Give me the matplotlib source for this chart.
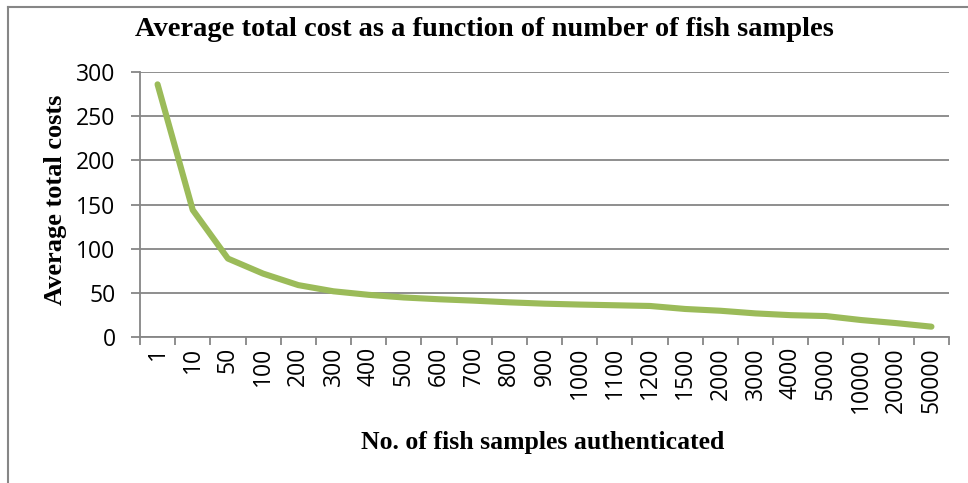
import matplotlib
matplotlib.use("Agg")
import matplotlib.pyplot as plt
from matplotlib.lines import Line2D
import numpy as np

# average total cost per number of authenticated fish samples
samples = ["1", "10", "50", "100", "200", "300", "400", "500", "600", "700",
           "800", "900", "1000", "1100", "1200", "1500", "2000", "3000",
           "4000", "5000", "10000", "20000", "50000"]
avg_cost = [286, 144, 89, 72, 59, 52, 48, 45, 43, 41.4, 39.5, 38, 37, 36.2,
            35.4, 32, 30, 27, 25, 24, 19.5, 16, 12]

grey = "#868686"
green = "#9BBB59"

fig = plt.figure(figsize=(9.68, 4.83), dpi=100)
ax = fig.add_axes([0.1446, 0.3017, 0.9804 - 0.1446, 0.851 - 0.3017])

x = np.arange(len(samples))
ax.plot(x, avg_cost, color=green, linewidth=4.4, solid_capstyle="round",
        solid_joinstyle="round", zorder=3)

ax.set_xlim(-0.5, len(samples) - 0.5)
ax.set_ylim(0, 300)
ax.set_yticks(np.arange(0, 301, 50))
ax.yaxis.grid(True, color=grey, linewidth=1.3)
ax.set_axisbelow(True)

# category labels centred, tick marks on the boundaries
ax.set_xticks(x)
ax.set_xticklabels(samples, rotation=90, fontfamily="Open Sans", fontsize=16.5)
ax.set_xticks(np.arange(-0.5, len(samples)), minor=True)
ax.tick_params(axis="x", which="major", length=0, pad=7)
ax.tick_params(axis="x", which="minor", length=6, width=1.3, color=grey)
ax.tick_params(axis="y", length=6.5, width=1.3, color=grey, pad=11)
for lab in ax.get_yticklabels():
    lab.set_fontfamily("Open Sans")
    lab.set_fontsize(16.5)

for side in ["top", "right"]:
    ax.spines[side].set_visible(False)
for side in ["left", "bottom"]:
    ax.spines[side].set_color(grey)
    ax.spines[side].set_linewidth(1.3)

fig.text(0.5, 0.938, "Average total cost as a function of number of fish samples",
         ha="center", va="center", fontfamily="Liberation Serif",
         fontweight="bold", fontsize=20.5)
fig.text(0.057, 0.586, "Average total costs", rotation=90, ha="center",
         va="center", fontfamily="Liberation Serif", fontweight="bold",
         fontsize=19)
fig.text(0.561, 0.083, "No. of fish samples authenticated", ha="center",
         va="center", fontfamily="Liberation Serif", fontweight="bold",
         fontsize=18.5)

# chart frame (only top and left edges show)
fig.add_artist(Line2D([0.0083, 0.0083], [0.0, 0.986], color=grey,
                      linewidth=1.5, transform=fig.transFigure))
fig.add_artist(Line2D([0.0083, 1.0], [0.986, 0.986], color=grey,
                      linewidth=1.5, transform=fig.transFigure))

fig.savefig("out.png", dpi=100)
